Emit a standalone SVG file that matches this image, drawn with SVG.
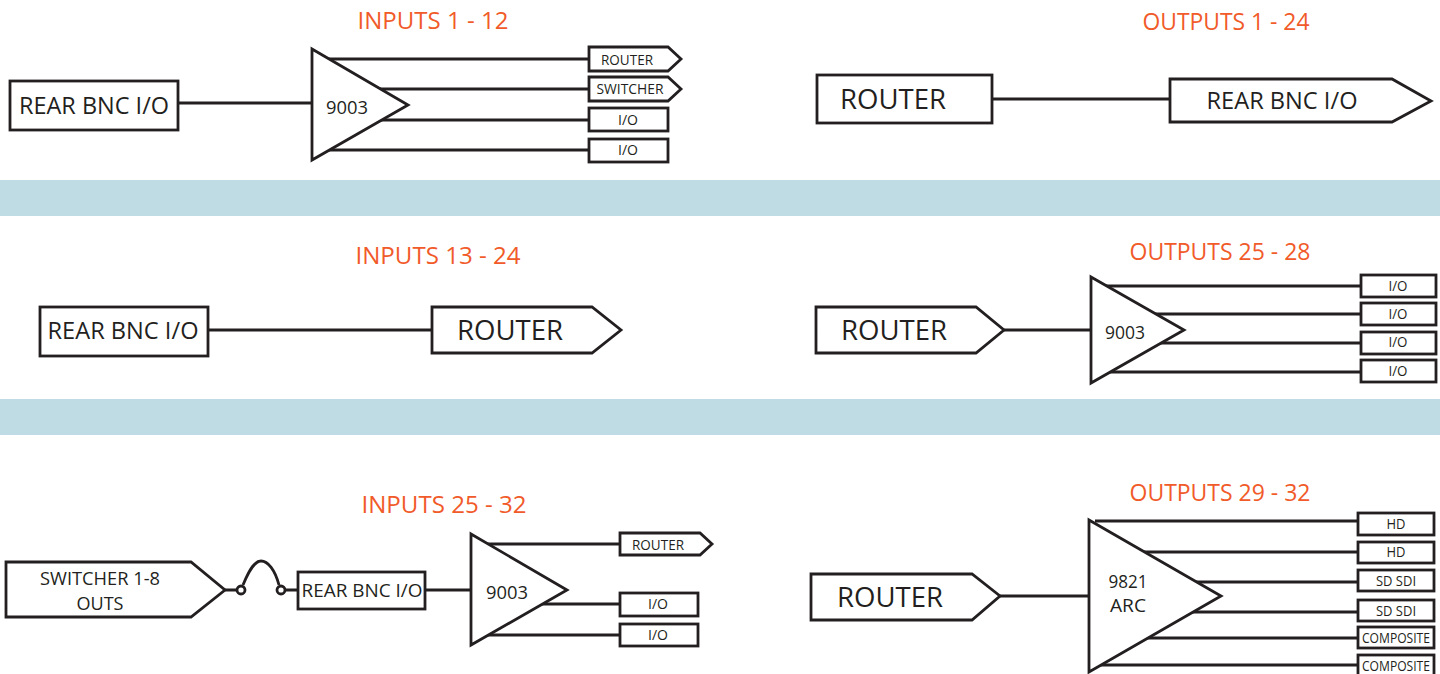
<svg xmlns="http://www.w3.org/2000/svg" width="1440" height="674" viewBox="0 0 1440 674">
<style>
.s{fill:#fff;stroke:#231f20;stroke-width:2.8}
.c{fill:none;stroke:#231f20;stroke-width:2.8}
text{font-family:"Open Sans","Noto Sans","Liberation Sans",sans-serif;fill:#231f20;text-anchor:middle}
.h{fill:#f15a29;font-size:24px}
.l{font-size:27px}
.m{font-size:23px}
.n{font-size:18px}
.t{font-size:14px}
.band{fill:#bfdbe3}
</style>
<rect class="band" x="0" y="180" width="1440" height="36"/>
<rect class="band" x="0" y="399" width="1440" height="36"/>
<g id="titles">
<text class="h" x="433" y="29" textLength="151" lengthAdjust="spacingAndGlyphs">INPUTS 1 - 12</text>
<text class="h" x="1226" y="30" textLength="167" lengthAdjust="spacingAndGlyphs">OUTPUTS 1 - 24</text>
<text class="h" x="438" y="264" textLength="165" lengthAdjust="spacingAndGlyphs">INPUTS 13 - 24</text>
<text class="h" x="1220" y="260" textLength="181" lengthAdjust="spacingAndGlyphs">OUTPUTS 25 - 28</text>
<text class="h" x="444" y="513" textLength="165" lengthAdjust="spacingAndGlyphs">INPUTS 25 - 32</text>
<text class="h" x="1220" y="501" textLength="181" lengthAdjust="spacingAndGlyphs">OUTPUTS 29 - 32</text>
</g>
<g id="connectors">
<path class="c" d="M178 103H312M320 59H589M320 89H589M320 120H589M320 150H589"/>
<path class="c" d="M992 99H1170"/>
<path class="c" d="M208 330H432"/>
<path class="c" d="M1004 330H1091M1100 286H1361M1100 314H1361M1100 343H1361M1100 372H1361"/>
<path class="c" d="M225 590H237M243 585C250 568 255 561 261 561C268 561 275 570 279 585M285 590H298M425 590H471M480 544H620M480 604H620M480 635H620"/>
<path class="c" d="M1000 596H1089M1095 521H1358M1095 552H1358M1095 582H1358M1095 612H1358M1095 638H1358M1095 665H1358"/>
</g>
<g id="in1-rear"><rect class="s" x="10" y="81" width="168" height="49"/><text class="m" x="94" y="114" textLength="150" lengthAdjust="spacingAndGlyphs">REAR BNC I/O</text></g>
<g id="in1-amp"><path class="s" d="M312 49L408 105L312 160Z"/><text class="n" x="347" y="114" textLength="42" lengthAdjust="spacingAndGlyphs">9003</text></g>
<g id="in1-router"><path class="s" d="M589 47H668L681 59L668 71H589Z"/><text class="t" x="627" y="65" textLength="52" lengthAdjust="spacingAndGlyphs">ROUTER</text></g>
<g id="in1-switcher"><path class="s" d="M589 77H668L681 89L668 101H589Z"/><text class="t" x="630" y="94" textLength="67" lengthAdjust="spacingAndGlyphs">SWITCHER</text></g>
<g id="in1-io1"><rect class="s" x="589" y="108" width="79" height="23"/><text class="t" x="628" y="125" textLength="20" lengthAdjust="spacingAndGlyphs">I/O</text></g>
<g id="in1-io2"><rect class="s" x="589" y="139" width="79" height="23"/><text class="t" x="628" y="155" textLength="20" lengthAdjust="spacingAndGlyphs">I/O</text></g>

<g id="out1-router"><rect class="s" x="817" y="75" width="175" height="48"/><text class="l" x="893" y="109" textLength="106" lengthAdjust="spacingAndGlyphs">ROUTER</text></g>
<g id="out1-rear"><path class="s" d="M1170 79H1392L1431 101L1392 122H1170Z"/><text class="m" x="1282" y="109" textLength="151" lengthAdjust="spacingAndGlyphs">REAR BNC I/O</text></g>

<g id="in2-rear"><rect class="s" x="40" y="307" width="168" height="49"/><text class="m" x="123" y="339" textLength="151" lengthAdjust="spacingAndGlyphs">REAR BNC I/O</text></g>
<g id="in2-router"><path class="s" d="M432 307H592L621 330L592 353H432Z"/><text class="l" x="510" y="340" textLength="106" lengthAdjust="spacingAndGlyphs">ROUTER</text></g>

<g id="out2-router"><path class="s" d="M816 307H976L1004 330L976 353H816Z"/><text class="l" x="894" y="340" textLength="106" lengthAdjust="spacingAndGlyphs">ROUTER</text></g>
<g id="out2-amp"><path class="s" d="M1091 277L1184 330L1091 383Z"/><text class="n" x="1125" y="339" textLength="40" lengthAdjust="spacingAndGlyphs">9003</text></g>
<g id="out2-io1"><rect class="s" x="1361" y="275" width="75" height="22"/><text class="t" x="1398" y="291" textLength="19" lengthAdjust="spacingAndGlyphs">I/O</text></g>
<g id="out2-io2"><rect class="s" x="1361" y="303" width="75" height="22"/><text class="t" x="1398" y="319" textLength="19" lengthAdjust="spacingAndGlyphs">I/O</text></g>
<g id="out2-io3"><rect class="s" x="1361" y="332" width="75" height="22"/><text class="t" x="1398" y="347" textLength="19" lengthAdjust="spacingAndGlyphs">I/O</text></g>
<g id="out2-io4"><rect class="s" x="1361" y="360" width="75" height="22"/><text class="t" x="1398" y="376" textLength="19" lengthAdjust="spacingAndGlyphs">I/O</text></g>

<g id="in3-switcher"><path class="s" d="M6 562H191L225 590L191 617H6Z"/><text class="n" x="100" y="585" textLength="120" lengthAdjust="spacingAndGlyphs">SWITCHER 1-8</text><text class="n" x="100" y="610" textLength="47" lengthAdjust="spacingAndGlyphs">OUTS</text></g>
<g id="in3-jack1"><circle class="s" cx="241" cy="590" r="4"/></g>
<g id="in3-jack2"><circle class="s" cx="281" cy="590" r="4"/></g>
<g id="in3-rear"><rect class="s" x="298" y="572" width="127" height="37"/><text class="n" x="362" y="597" textLength="121" lengthAdjust="spacingAndGlyphs">REAR BNC I/O</text></g>
<g id="in3-amp"><path class="s" d="M471 534L567 590L471 645Z"/><text class="n" x="507" y="599" textLength="42" lengthAdjust="spacingAndGlyphs">9003</text></g>
<g id="in3-router"><path class="s" d="M620 533H700L712 544L700 555H620Z"/><text class="t" x="658" y="550" textLength="52" lengthAdjust="spacingAndGlyphs">ROUTER</text></g>
<g id="in3-io1"><rect class="s" x="620" y="593" width="78" height="23"/><text class="t" x="658" y="609" textLength="20" lengthAdjust="spacingAndGlyphs">I/O</text></g>
<g id="in3-io2"><rect class="s" x="620" y="624" width="78" height="22"/><text class="t" x="658" y="640" textLength="20" lengthAdjust="spacingAndGlyphs">I/O</text></g>

<g id="out3-router"><path class="s" d="M811 574H972L1000 596L972 620H811Z"/><text class="l" x="890" y="607" textLength="106" lengthAdjust="spacingAndGlyphs">ROUTER</text></g>
<g id="out3-amp"><path class="s" d="M1089 520L1221 596L1089 672Z"/><text class="n" x="1128" y="588" textLength="39" lengthAdjust="spacingAndGlyphs">9821</text><text class="n" x="1128" y="612" textLength="36" lengthAdjust="spacingAndGlyphs">ARC</text></g>
<g id="out3-hd1"><rect class="s" x="1358" y="513" width="76" height="22"/><text class="t" x="1396" y="529" textLength="19" lengthAdjust="spacingAndGlyphs">HD</text></g>
<g id="out3-hd2"><rect class="s" x="1358" y="542" width="76" height="21"/><text class="t" x="1396" y="557" textLength="19" lengthAdjust="spacingAndGlyphs">HD</text></g>
<g id="out3-sd1"><rect class="s" x="1358" y="570" width="76" height="21"/><text class="t" x="1396" y="586" textLength="40" lengthAdjust="spacingAndGlyphs">SD SDI</text></g>
<g id="out3-sd2"><rect class="s" x="1358" y="600" width="76" height="21"/><text class="t" x="1396" y="616" textLength="40" lengthAdjust="spacingAndGlyphs">SD SDI</text></g>
<g id="out3-comp1"><rect class="s" x="1358" y="627" width="76" height="21"/><text class="t" x="1396" y="643" textLength="68" lengthAdjust="spacingAndGlyphs">COMPOSITE</text></g>
<g id="out3-comp2"><rect class="s" x="1358" y="655" width="76" height="21"/><text class="t" x="1396" y="671" textLength="68" lengthAdjust="spacingAndGlyphs">COMPOSITE</text></g>
</svg>
